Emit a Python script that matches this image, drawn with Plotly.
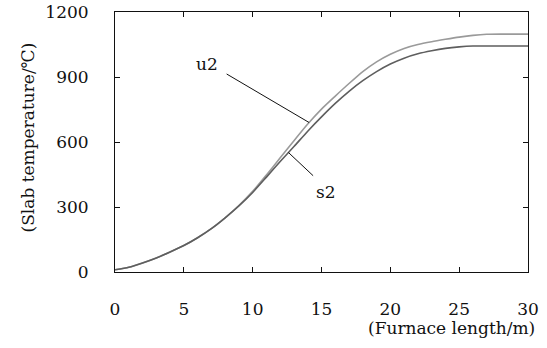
import numpy as np
import plotly.graph_objects as go

furnace_length = list(range(0, 31))
u2_temp = [10, 22, 42, 65, 92, 122, 158, 200, 250, 307, 372, 448, 527, 606, 683, 752,
           812, 870, 925, 970, 1005, 1032, 1050, 1063, 1074, 1084, 1092, 1097, 1098, 1098, 1098]
s2_temp = [10, 22, 42, 65, 92, 122, 158, 200, 250, 305, 367, 438, 510, 579, 650, 716,
           778, 834, 883, 925, 960, 987, 1007, 1021, 1032, 1039, 1043, 1043, 1043, 1043, 1043]
x_ticks = [0, 5, 10, 15, 20, 25, 30]
y_ticks = [0, 300, 600, 900, 1200]

FONT = "DejaVu Serif"
FS = 17

fig = go.Figure()
fig.add_trace(go.Scatter(x=furnace_length, y=u2_temp, mode="lines", line_shape="spline",
                         line=dict(color="#9a9a9a", width=1.6, smoothing=0.6), name="u2"))
fig.add_trace(go.Scatter(x=furnace_length, y=s2_temp, mode="lines", line_shape="spline",
                         line=dict(color="#5e5e5e", width=1.6, smoothing=0.6), name="s2"))

u2_tip_x = 14.1
s2_tip_x = 12.6
u2_tip_y = float(np.interp(u2_tip_x, furnace_length, u2_temp))
s2_tip_y = float(np.interp(s2_tip_x, furnace_length, s2_temp))

fig.add_annotation(x=u2_tip_x, y=u2_tip_y, ax=8.0, ay=918, axref="x", ayref="y",
                   text="", showarrow=True, arrowhead=0, arrowwidth=1, arrowcolor="#111")
fig.add_annotation(x=6.68, y=960, text="u2", showarrow=False,
                   font=dict(family=FONT, size=FS, color="#111"))
fig.add_annotation(x=s2_tip_x, y=s2_tip_y, ax=14.5, ay=438, axref="x", ayref="y",
                   text="", showarrow=True, arrowhead=0, arrowwidth=1, arrowcolor="#111")
fig.add_annotation(x=15.3, y=369, text="s2", showarrow=False,
                   font=dict(family=FONT, size=FS, color="#111"))

fig.add_annotation(xref="paper", yref="paper", x=1.022, y=-0.215, xanchor="right", yanchor="middle",
                   text="(Furnace length/m)", showarrow=False,
                   font=dict(family=FONT, size=FS, color="#111"))
fig.add_annotation(xref="paper", yref="paper", x=-0.211, y=0.517, xanchor="center", yanchor="middle",
                   text="(Slab temperature/℃)", textangle=-90, showarrow=False,
                   font=dict(family=FONT, size=FS, color="#111"))

axis_common = dict(showgrid=False, zeroline=False, showline=True, linecolor="#111", linewidth=1,
                   ticks="inside", ticklen=5, tickcolor="#111", mirror="ticks", automargin=False,
                   tickfont=dict(family=FONT, size=FS, color="#111"))
fig.update_xaxes(range=[0, 30], tickvals=x_ticks, ticktext=[str(v) for v in x_ticks],
                 ticklabelstandoff=22, **axis_common)
fig.update_yaxes(range=[0, 1200], tickvals=y_ticks, ticktext=[str(v) for v in y_ticks],
                 ticklabelstandoff=22, **axis_common)

fig.update_layout(width=547, height=348, margin=dict(l=115, r=19, t=12, b=76, autoexpand=False),
                  font=dict(family=FONT),
                  paper_bgcolor="white", plot_bgcolor="white", showlegend=False)
fig.write_html("out.html", config={"displayModeBar": False},
               post_script="document.body.style.margin='0px';")
